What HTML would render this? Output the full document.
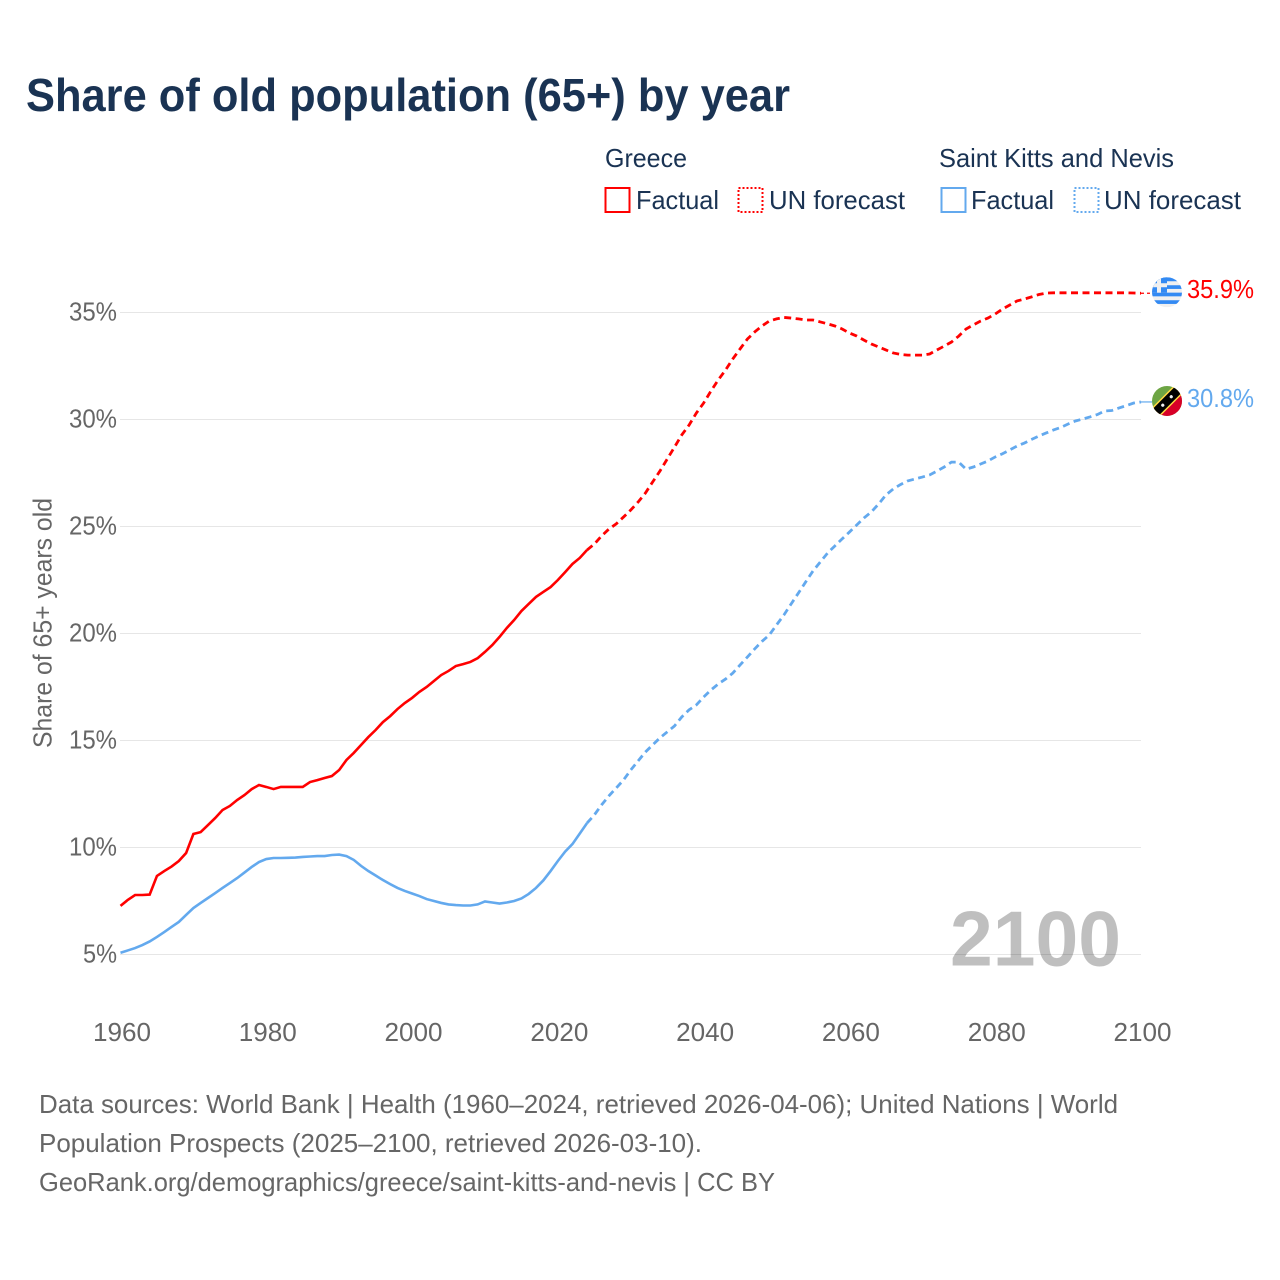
<!DOCTYPE html>
<html lang="en">
<head>
<meta charset="utf-8">
<title>Share of old population (65+) by year</title>
<style>
html,body{margin:0;padding:0;background:#fff;width:1280px;height:1280px;overflow:hidden}
svg{display:block}
text{font-family:"Liberation Sans",sans-serif}
</style>
</head>
<body>
<svg id="chart" width="1280" height="1280" viewBox="0 0 1280 1280" xmlns="http://www.w3.org/2000/svg">
  <defs>
    <clipPath id="flag-clip"><circle cx="0" cy="0" r="15"/></clipPath>
  </defs>
  <rect width="1280" height="1280" fill="#fff"/>

  <text x="26" y="111" font-size="46" font-weight="700" fill="#1a3353" textLength="764" lengthAdjust="spacingAndGlyphs">Share of old population (65+) by year</text>

  <g font-size="26" fill="#1a3353">
    <text x="605" y="167" textLength="82" lengthAdjust="spacingAndGlyphs">Greece</text>
    <text x="939" y="167" textLength="235" lengthAdjust="spacingAndGlyphs">Saint Kitts and Nevis</text>
    <rect x="605.5" y="188" width="24" height="24" fill="none" stroke="#ff0000" stroke-width="2"/>
    <text x="636" y="209" textLength="83" lengthAdjust="spacingAndGlyphs">Factual</text>
    <rect x="738.5" y="188" width="24" height="24" fill="none" stroke="#ff0000" stroke-width="2" stroke-dasharray="2 2"/>
    <text x="769" y="209" textLength="136" lengthAdjust="spacingAndGlyphs">UN forecast</text>
    <rect x="941.5" y="188" width="24" height="24" fill="none" stroke="#63a9ee" stroke-width="2"/>
    <text x="971" y="209" textLength="83" lengthAdjust="spacingAndGlyphs">Factual</text>
    <rect x="1074.5" y="188" width="24" height="24" fill="none" stroke="#63a9ee" stroke-width="2" stroke-dasharray="2 2"/>
    <text x="1104" y="209" textLength="137" lengthAdjust="spacingAndGlyphs">UN forecast</text>
  </g>

  <g id="grid"></g>
  <g id="y-ticks"></g>
  <g id="x-ticks"></g>

  <text transform="translate(51.5,623) rotate(-90)" text-anchor="middle" font-size="26" fill="#666" textLength="250" lengthAdjust="spacingAndGlyphs">Share of 65+ years old</text>

  <text x="950" y="965.5" font-size="78" font-weight="700" fill="#000" fill-opacity="0.25" textLength="171" lengthAdjust="spacingAndGlyphs">2100</text>

  <g id="series"></g>

  <g id="flag-greece">
    <g clip-path="url(#flag-clip)">
      <rect x="-15" y="-15" width="30" height="30" fill="#f0f0f0"/>
      <rect x="-15" y="-15" width="30" height="4" fill="#338af3"/>
      <rect x="-15" y="-7" width="30" height="3.7" fill="#338af3"/>
      <rect x="-15" y="0.4" width="30" height="3.7" fill="#338af3"/>
      <rect x="-15" y="8" width="30" height="3.7" fill="#338af3"/>
      <rect x="-15" y="-15" width="15" height="15.4" fill="#338af3"/>
      <rect x="-10" y="-15" width="4" height="15.4" fill="#f0f0f0"/>
      <rect x="-15" y="-9" width="15" height="4" fill="#f0f0f0"/>
    </g>
  </g>

  <g id="flag-kitts">
    <g clip-path="url(#flag-clip)">
      <rect x="-15" y="-15" width="30" height="30" fill="#6da544"/>
      <polygon points="15,-15 15,15 -15,15" fill="#d80027"/>
      <g transform="rotate(-45)">
        <rect x="-22" y="-6" width="44" height="12" fill="#ffda44"/>
        <rect x="-22" y="-4.5" width="44" height="9" fill="#000"/>
        <circle cx="-6" cy="0" r="1.6" fill="#f0f0f0"/>
        <circle cx="6" cy="0" r="1.6" fill="#f0f0f0"/>
      </g>
    </g>
  </g>

  <text id="label-greece" x="1187" font-size="26" fill="#ff0000" textLength="67" lengthAdjust="spacingAndGlyphs"></text>
  <text id="label-kitts" x="1187" font-size="26" fill="#63a9ee" textLength="67" lengthAdjust="spacingAndGlyphs"></text>

  <g font-size="26" fill="#666">
    <text x="39" y="1113" textLength="1079" lengthAdjust="spacingAndGlyphs">Data sources: World Bank | Health (1960–2024, retrieved 2026-04-06); United Nations | World</text>
    <text x="39" y="1152" textLength="663" lengthAdjust="spacingAndGlyphs">Population Prospects (2025–2100, retrieved 2026-03-10).</text>
    <text x="39" y="1191" textLength="736" lengthAdjust="spacingAndGlyphs">GeoRank.org/demographics/greece/saint-kitts-and-nevis | CC BY</text>
  </g>
</svg>

<script>
const factualStartYear = 1960;
const forecastStartYear = 2024;
const xTickYears = [1960, 1980, 2000, 2020, 2040, 2060, 2080, 2100];
const yTickValues = [5, 10, 15, 20, 25, 30, 35];

const greeceFactual = [
  7.27,7.55,7.78,7.78,7.80,8.67,8.90,9.11,9.37,9.74,
  10.63,10.72,11.05,11.38,11.75,11.94,12.22,12.45,12.73,12.92,
  12.83,12.73,12.83,12.83,12.83,12.83,13.06,13.15,13.25,13.34,
  13.62,14.09,14.42,14.79,15.16,15.49,15.86,16.14,16.47,16.75,
  16.99,17.27,17.50,17.78,18.06,18.25,18.48,18.57,18.67,18.85,
  19.14,19.46,19.84,20.26,20.63,21.05,21.38,21.71,21.94,22.17,
  22.50,22.87,23.25,23.53,23.90
];
const greeceForecast = [
  23.90,24.18,24.56,24.88,25.12,25.44,25.77,26.14,26.56,27.08,27.59,
  28.15,28.71,29.28,29.74,30.30,30.77,31.33,31.85,32.31,32.83,
  33.30,33.76,34.09,34.37,34.60,34.70,34.77,34.74,34.70,34.65,
  34.65,34.56,34.47,34.37,34.23,34.04,33.90,33.71,33.53,33.39,
  33.25,33.11,33.04,33.01,33.01,33.01,33.06,33.25,33.43,33.62,
  33.90,34.23,34.42,34.60,34.74,34.93,35.16,35.35,35.54,35.63,
  35.73,35.84,35.91,35.92,35.92,35.92,35.92,35.92,35.92,35.92,
  35.92,35.92,35.92,35.92,35.91,35.90
];
const kittsFactual = [
  5.08,5.19,5.30,5.44,5.61,5.82,6.05,6.29,6.52,6.85,
  7.17,7.41,7.64,7.87,8.11,8.34,8.57,8.83,9.09,9.32,
  9.46,9.51,9.51,9.52,9.53,9.56,9.58,9.60,9.60,9.65,
  9.67,9.60,9.42,9.14,8.90,8.69,8.48,8.29,8.11,7.97,
  7.85,7.73,7.59,7.50,7.41,7.34,7.31,7.29,7.29,7.34,
  7.48,7.43,7.38,7.43,7.50,7.62,7.83,8.11,8.46,8.90,
  9.37,9.81,10.16,10.65,11.14
];
const kittsForecast = [
  11.14,11.52,11.99,12.41,12.78,13.15,13.62,14.04,14.46,14.79,15.12,
  15.40,15.68,16.10,16.43,16.66,17.03,17.36,17.64,17.87,18.15,
  18.53,18.90,19.28,19.63,19.93,20.40,20.86,21.38,21.89,22.41,
  22.92,23.34,23.76,24.09,24.42,24.74,25.07,25.40,25.68,26.05,
  26.47,26.75,26.96,27.13,27.22,27.31,27.41,27.59,27.78,28.01,
  28.01,27.68,27.78,27.92,28.06,28.25,28.40,28.58,28.76,28.90,
  29.07,29.23,29.37,29.51,29.63,29.79,29.93,30.02,30.12,30.23,
  30.40,30.42,30.54,30.65,30.77,30.82
];

const SVG_NS = 'http://www.w3.org/2000/svg';
const xAxis = function (year) { return 120.5 + (year - 1960) * (1141 - 120.5) / 140; };
const yAxis = function (value) { return 954.5 - (value - 5) * (954.5 - 312.5) / 30; };
const toPoints = function (values, startYear) {
  return values.map(function (v, i) {
    return xAxis(startYear + i).toFixed(2) + ',' + yAxis(v).toFixed(2);
  }).join(' ');
};

const grid = document.getElementById('grid');
const yTicksGroup = document.getElementById('y-ticks');
const xTicksGroup = document.getElementById('x-ticks');
const seriesGroup = document.getElementById('series');

yTickValues.forEach(function (v) {
  const line = document.createElementNS(SVG_NS, 'line');
  
  
  line.setAttribute('x1', 120);
  line.setAttribute('x2', 1141);
  line.setAttribute('y1', yAxis(v));
  line.setAttribute('y2', yAxis(v));
  line.setAttribute('stroke', '#e6e6e6');
  line.setAttribute('stroke-width', '1');
  grid.appendChild(line);

  const label = document.createElementNS(SVG_NS, 'text');
  
  
  label.setAttribute('x', 117);
  label.setAttribute('y', yAxis(v) + 8);
  label.setAttribute('text-anchor', 'end');
  label.setAttribute('font-size', '26');
  label.setAttribute('fill', '#666');
  label.setAttribute('textLength', v < 10 ? 34 : 48);
  label.setAttribute('lengthAdjust', 'spacingAndGlyphs');
  label.textContent = v + '%';
  yTicksGroup.appendChild(label);
});

xTickYears.forEach(function (year) {
  const label = document.createElementNS(SVG_NS, 'text');
  
  
  label.setAttribute('x', xAxis(year) + 1.5);
  label.setAttribute('y', 1041);
  label.setAttribute('text-anchor', 'middle');
  label.setAttribute('font-size', '26');
  label.setAttribute('fill', '#666');
  label.setAttribute('textLength', 58);
  label.setAttribute('lengthAdjust', 'spacingAndGlyphs');
  label.textContent = String(year);
  xTicksGroup.appendChild(label);
});

const greeceFactualLine = document.createElementNS(SVG_NS, 'polyline');


greeceFactualLine.setAttribute('points', toPoints(greeceFactual, factualStartYear));
greeceFactualLine.setAttribute('fill', 'none');
greeceFactualLine.setAttribute('stroke', '#ff0000');
greeceFactualLine.setAttribute('stroke-width', '2.6');
seriesGroup.appendChild(greeceFactualLine);

const greeceForecastLine = document.createElementNS(SVG_NS, 'polyline');


greeceForecastLine.setAttribute('points', toPoints(greeceForecast, forecastStartYear));
greeceForecastLine.setAttribute('fill', 'none');
greeceForecastLine.setAttribute('stroke', '#ff0000');
greeceForecastLine.setAttribute('stroke-width', '2.8');
greeceForecastLine.setAttribute('stroke-dasharray', '7 4.5');
seriesGroup.appendChild(greeceForecastLine);

const kittsFactualLine = document.createElementNS(SVG_NS, 'polyline');


kittsFactualLine.setAttribute('points', toPoints(kittsFactual, factualStartYear));
kittsFactualLine.setAttribute('fill', 'none');
kittsFactualLine.setAttribute('stroke', '#63a9ee');
kittsFactualLine.setAttribute('stroke-width', '2.6');
seriesGroup.appendChild(kittsFactualLine);

const kittsForecastLine = document.createElementNS(SVG_NS, 'polyline');


kittsForecastLine.setAttribute('points', toPoints(kittsForecast, forecastStartYear));
kittsForecastLine.setAttribute('fill', 'none');
kittsForecastLine.setAttribute('stroke', '#63a9ee');
kittsForecastLine.setAttribute('stroke-width', '2.8');
kittsForecastLine.setAttribute('stroke-dasharray', '7 4.5');
seriesGroup.appendChild(kittsForecastLine);

const greeceEnd = greeceForecast[greeceForecast.length - 1];
const kittsEnd = kittsForecast[kittsForecast.length - 1];

const greeceTail = document.createElementNS(SVG_NS, 'line');


greeceTail.setAttribute('x1', 1141);
greeceTail.setAttribute('x2', 1152);
greeceTail.setAttribute('y1', yAxis(greeceEnd));
greeceTail.setAttribute('y2', yAxis(greeceEnd));
greeceTail.setAttribute('stroke', '#ff0000');
greeceTail.setAttribute('stroke-width', '1.2');
greeceTail.setAttribute('stroke-dasharray', '3 3');
seriesGroup.appendChild(greeceTail);

const kittsTail = document.createElementNS(SVG_NS, 'line');


kittsTail.setAttribute('x1', 1141);
kittsTail.setAttribute('x2', 1152);
kittsTail.setAttribute('y1', yAxis(kittsEnd));
kittsTail.setAttribute('y2', yAxis(kittsEnd));
kittsTail.setAttribute('stroke', '#63a9ee');
kittsTail.setAttribute('stroke-width', '1.2');
seriesGroup.appendChild(kittsTail);

document.getElementById('flag-greece').setAttribute('transform', 'translate(1167,' + (yAxis(greeceEnd) - 1) + ')');
document.getElementById('flag-kitts').setAttribute('transform', 'translate(1167,' + (yAxis(kittsEnd) - 1) + ')');

const labelGreece = document.getElementById('label-greece');
labelGreece.setAttribute('y', yAxis(greeceEnd) + 5);
labelGreece.textContent = greeceEnd.toFixed(1) + '%';

const labelKitts = document.getElementById('label-kitts');
labelKitts.setAttribute('y', yAxis(kittsEnd) + 5);
labelKitts.textContent = kittsEnd.toFixed(1) + '%';
</script>
</body>
</html>
